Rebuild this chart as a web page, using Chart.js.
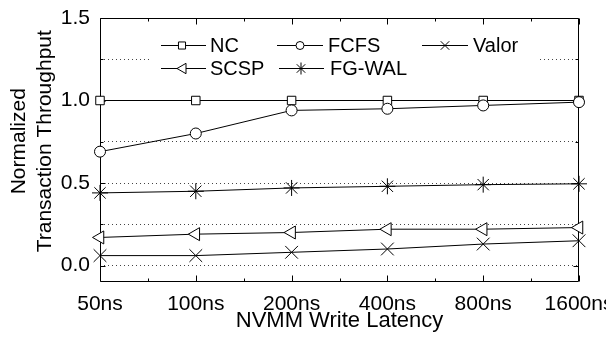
<!DOCTYPE html>
<html>
<head>
<meta charset="utf-8">
<script src="https://cdn.jsdelivr.net/npm/chart.js@4.4.0/dist/chart.umd.min.js"></script>
<style>
  html, body { margin: 0; padding: 0; background: #fff; }
  #wrap { width: 606px; height: 337px; position: relative; }
</style>
</head>
<body>
<div id="wrap"><canvas id="latencyChart"></canvas></div>
<script>
// Chart data
const latencies = ['50ns', '100ns', '200ns', '400ns', '800ns', '1600ns'];
const ncValues = [1.0, 1.0, 1.0, 1.0, 1.0, 1.0];
const fcfsValues = [0.69, 0.80, 0.94, 0.95, 0.97, 0.99];
const valorValues = [0.06, 0.06, 0.08, 0.10, 0.13, 0.15];
const scspValues = [0.17, 0.19, 0.20, 0.22, 0.22, 0.23];
const fgwalValues = [0.44, 0.45, 0.47, 0.48, 0.49, 0.495];
const yTickValues = [0, 0.25, 0.5, 0.75, 1.0, 1.25, 1.5];

Chart.defaults.font.family = "'Liberation Sans', Arial, sans-serif";
Chart.defaults.font.size = 21;
Chart.defaults.color = '#000';

// Shared line style
function series(label, data, pointStyle, radius, extra) {
    return Object.assign({
        label: label,
        data: data,
        borderColor: '#000',
        borderWidth: 1,
        pointStyle: pointStyle,
        pointRadius: radius,
        pointHoverRadius: radius,
        pointBackgroundColor: '#fff',
        pointBorderColor: '#000',
        pointBorderWidth: 1,
        tension: 0,
        fill: false,
        clip: false
    }, extra || {});
}

// Frame and inward tick marks, like the original plot
const framePlugin = {
    id: 'frame',
    beforeDatasetsDraw(chart) {
        const ctx = chart.ctx;
        const a = chart.chartArea;
        const xs = chart.scales.x;
        const ys = chart.scales.y;
        const L = Math.round(a.left) + 0.5, R = Math.round(a.right) - 0.5;
        const T = Math.round(a.top) + 0.5, B = Math.round(a.bottom) - 0.5;
        ctx.save();
        ctx.strokeStyle = '#000';
        ctx.lineWidth = 1;
        ctx.beginPath();
        ctx.rect(L, T, R - L, B - T);
        for (let i = 0; i < latencies.length; i++) {
            const x = Math.round(xs.getPixelForValue(i)) + 0.5;
            ctx.moveTo(x, B); ctx.lineTo(x, B - 6);
            ctx.moveTo(x, T); ctx.lineTo(x, T + 6);
            if (i < latencies.length - 1) {
                const m = Math.round((xs.getPixelForValue(i) + xs.getPixelForValue(i + 1)) / 2) + 0.5;
                ctx.moveTo(m, B); ctx.lineTo(m, B - 3);
                ctx.moveTo(m, T); ctx.lineTo(m, T + 3);
            }
        }
        yTickValues.forEach(v => {
            const y = Math.round(ys.getPixelForValue(v)) + 0.5;
            const len = (v * 2) % 1 === 0 ? 5 : 3;
            ctx.moveTo(L, y); ctx.lineTo(L + len, y);
            ctx.moveTo(R, y); ctx.lineTo(R - len, y);
        });
        ctx.stroke();
        ctx.restore();
    }
};

// Legend drawn as line + marker + text, two rows
const legendPlugin = {
    id: 'lineLegend',
    afterDraw(chart) {
        const ctx = chart.ctx;
        const entries = [
            { i: 0, x0: 161, x1: 206, mx: 182, tx: 210, y: 45, r: 5 },
            { i: 1, x0: 277, x1: 323, mx: 300, tx: 328, y: 45, r: 4 },
            { i: 2, x0: 422, x1: 468, mx: 445, tx: 473, y: 45, r: 6 },
            { i: 3, x0: 161, x1: 206, mx: 183, tx: 210, y: 68, r: 6 },
            { i: 4, x0: 279, x1: 324, mx: 301, tx: 330, y: 68, r: 6 }
        ];
        ctx.save();
        ctx.fillStyle = '#fff';
        ctx.fillRect(150, 30, 387, 52);
        entries.forEach(e => {
            const ds = chart.data.datasets[e.i];
            ctx.strokeStyle = '#000';
            ctx.lineWidth = 1;
            ctx.beginPath();
            ctx.moveTo(e.x0, e.y + 0.5);
            ctx.lineTo(e.x1, e.y + 0.5);
            ctx.stroke();
            ctx.fillStyle = '#fff';
            Chart.helpers.drawPoint(ctx, {
                pointStyle: ds.pointStyle,
                radius: e.r,
                rotation: ds.pointRotation || 0,
                borderWidth: 1
            }, e.mx, e.y + 0.5);
            ctx.fillStyle = '#000';
            ctx.font = "20px 'Liberation Sans', Arial, sans-serif";
            ctx.textBaseline = 'middle';
            ctx.textAlign = 'left';
            ctx.fillText(ds.label, e.tx, e.y + 1);
        });
        ctx.restore();
    }
};

new Chart(document.getElementById('latencyChart').getContext('2d'), {
    type: 'line',
    data: {
        labels: latencies,
        datasets: [
            series('NC', ncValues, 'rect', 6, { order: 2 }),
            series('FCFS', fcfsValues, 'circle', 5.5, { order: 1 }),
            series('Valor', valorValues, 'crossRot', 9, { order: 3 }),
            series('SCSP', scspValues, 'triangle', 7.5, { order: 4, pointRotation: -90 }),
            series('FG-WAL', fgwalValues, 'star', 8, { order: 5 })
        ]
    },
    options: {
        responsive: true,
        maintainAspectRatio: false,
        animation: false,
        layout: { padding: { left: 0, right: 27, top: 18, bottom: 0 } },
        plugins: {
            legend: { display: false },
            tooltip: { enabled: false }
        },
        scales: {
            x: {
                type: 'category',
                offset: false,
                grid: { display: false },
                border: { display: false },
                ticks: { padding: 2, maxRotation: 0, autoSkip: false },
                title: {
                    display: true,
                    text: 'NVMM Write Latency',
                    font: { size: 22 },
                    padding: { top: 0, bottom: 3 }
                },
                afterFit(scale) {
                    scale.height = 55;
                    scale.paddingLeft = 0;
                    scale.paddingRight = 0;
                }
            },
            y: {
                min: -0.1,
                max: 1.5,
                afterBuildTicks(scale) {
                    scale.ticks = yTickValues.map(v => ({ value: v }));
                },
                grid: {
                    color: ctx => (ctx.tick && ctx.tick.value === 1.5) ? 'rgba(0,0,0,0)' : '#444',
                    lineWidth: 1,
                    drawTicks: false
                },
                border: { display: false, dash: [1, 3] },
                ticks: {
                    padding: 10,
                    callback: v => ((v * 2) % 1 === 0 ? v.toFixed(1) : '')
                },
                title: {
                    display: true,
                    // leading spaces nudge the centred title up a little, as in the original
                    text: ['   Normalized', '   Transaction Throughput'],
                    font: { size: 21, lineHeight: 1.2 },
                    padding: { top: 7, bottom: 0 }
                },
                afterFit(scale) {
                    scale.width = 100;
                    scale.paddingTop = 0;
                    scale.paddingBottom = 0;
                }
            }
        }
    },
    plugins: [framePlugin, legendPlugin]
});
</script>
</body>
</html>
